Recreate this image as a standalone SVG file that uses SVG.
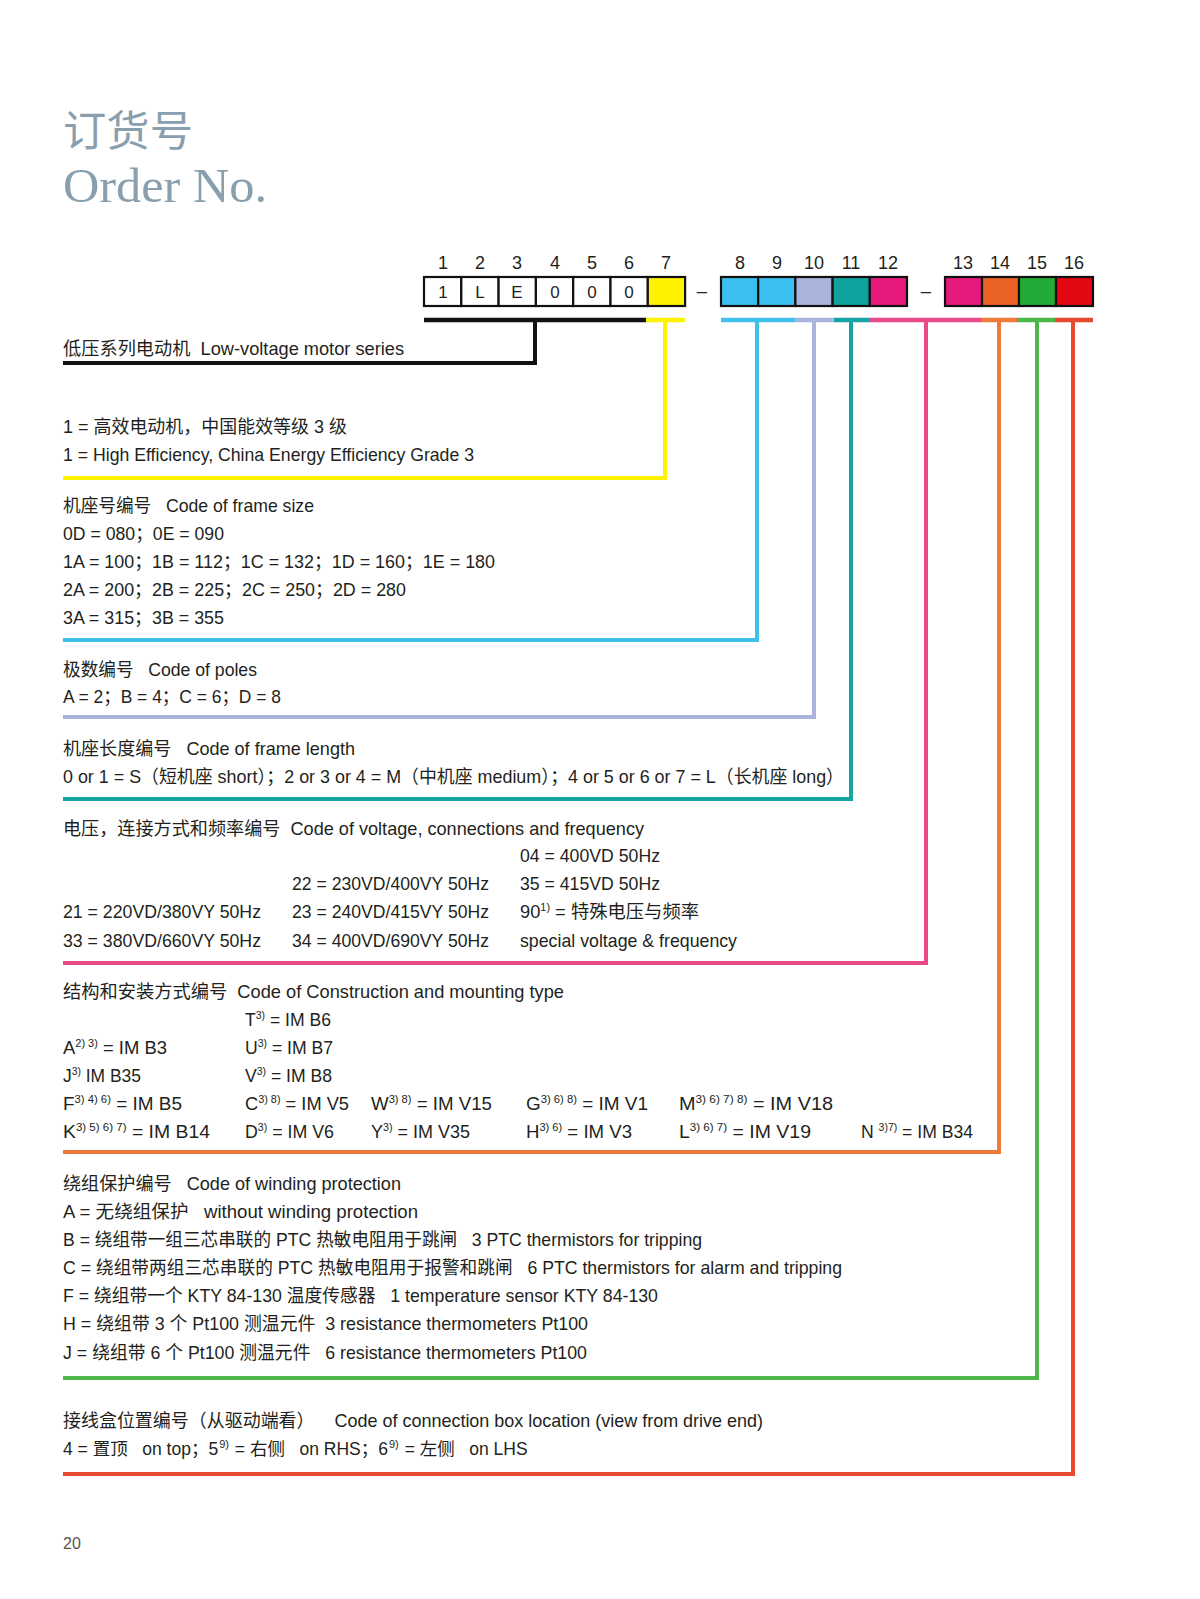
<svg xmlns="http://www.w3.org/2000/svg" width="1200" height="1599" viewBox="0 0 1200 1599">
<style>
text{font-family:"Liberation Sans","Noto Sans CJK SC",sans-serif;fill:#231f20;font-size:18.5px}
.num{font-size:18px;text-anchor:middle}
.box{font-size:17px;text-anchor:middle}
.sup{font-size:11px}
.sm{font-size:17.5px}
.title{font-family:"Noto Sans CJK SC",sans-serif;fill:#8a9fae;font-size:42px}
.title2{font-family:"Liberation Serif",serif;fill:#8a9fae;font-size:49px}
.pg{fill:#555;font-size:16px}
.cell{stroke:#111;stroke-width:2.2}
.ln{fill:none;stroke-width:4;stroke-linejoin:miter;stroke-linecap:butt}
.bar{stroke-width:4.5}
</style>
<rect width="1200" height="1599" fill="#fff"/>
<g id="title">
<text class="title" x="63" y="146" textLength="130" lengthAdjust="spacingAndGlyphs">订货号</text>
<text class="title2" x="63" y="202" textLength="204" lengthAdjust="spacingAndGlyphs">Order No.</text>
</g>
<g id="code-header">
<g id="positions">
<text class="num" x="443" y="269">1</text><text class="num" x="480" y="269">2</text><text class="num" x="517" y="269">3</text><text class="num" x="555" y="269">4</text><text class="num" x="592" y="269">5</text><text class="num" x="629" y="269">6</text><text class="num" x="666" y="269">7</text>
<text class="num" x="740" y="269">8</text><text class="num" x="777" y="269">9</text><text class="num" x="814" y="269">10</text><text class="num" x="851" y="269">11</text><text class="num" x="888" y="269">12</text>
<text class="num" x="963" y="269">13</text><text class="num" x="1000" y="269">14</text><text class="num" x="1037" y="269">15</text><text class="num" x="1074" y="269">16</text>
</g>
<g id="boxes1">
<rect class="cell" x="424" y="277" width="37.3" height="29" fill="#fff"/>
<rect class="cell" x="461.3" y="277" width="37.3" height="29" fill="#fff"/>
<rect class="cell" x="498.6" y="277" width="37.3" height="29" fill="#fff"/>
<rect class="cell" x="535.9" y="277" width="37.3" height="29" fill="#fff"/>
<rect class="cell" x="573.2" y="277" width="37.3" height="29" fill="#fff"/>
<rect class="cell" x="610.5" y="277" width="37.3" height="29" fill="#fff"/>
<rect class="cell" x="647.8" y="277" width="37.3" height="29" fill="#fff200"/>
<text class="box" x="443" y="298">1</text><text class="box" x="480" y="298">L</text><text class="box" x="517" y="298">E</text><text class="box" x="555" y="298">0</text><text class="box" x="592" y="298">0</text><text class="box" x="629" y="298">0</text>
</g>
<text x="702" y="297" style="text-anchor:middle">–</text>
<g id="boxes2">
<rect class="cell" x="721" y="277" width="37.2" height="29" fill="#3bbfef"/>
<rect class="cell" x="758.2" y="277" width="37.2" height="29" fill="#3bbfef"/>
<rect class="cell" x="795.4" y="277" width="37.2" height="29" fill="#aab3dc"/>
<rect class="cell" x="832.6" y="277" width="37.2" height="29" fill="#0ea39f"/>
<rect class="cell" x="869.8" y="277" width="37.2" height="29" fill="#e6197c"/>
</g>
<text x="926" y="297" style="text-anchor:middle">–</text>
<g id="boxes3">
<rect class="cell" x="945" y="277" width="37" height="29" fill="#e6197c"/>
<rect class="cell" x="982" y="277" width="37" height="29" fill="#eb6324"/>
<rect class="cell" x="1019" y="277" width="37" height="29" fill="#22ab38"/>
<rect class="cell" x="1056" y="277" width="37" height="29" fill="#e30613"/>
</g>
</g>
<g id="connectors">
<line class="ln bar" x1="424" y1="320" x2="646" y2="320" stroke="#111"/>
<polyline class="ln" points="535,320 535,363 63,363" stroke="#111"/>
<line class="ln bar" x1="646" y1="320" x2="685" y2="320" stroke="#fff200"/>
<polyline class="ln" points="665,320 665,478 63,478" stroke="#fff200"/>
<line class="ln bar" x1="721" y1="320" x2="795" y2="320" stroke="#40bfea"/>
<polyline class="ln" points="757,320 757,640 63,640" stroke="#40bfea"/>
<line class="ln bar" x1="795" y1="320" x2="834" y2="320" stroke="#aab4dc"/>
<polyline class="ln" points="814,320 814,717 63,717" stroke="#aab4dc"/>
<line class="ln bar" x1="834" y1="320" x2="870" y2="320" stroke="#15a3a3"/>
<polyline class="ln" points="851,320 851,799 63,799" stroke="#15a3a3"/>
<line class="ln bar" x1="870" y1="320" x2="981" y2="320" stroke="#e74a86"/>
<polyline class="ln" points="926,320 926,963 63,963" stroke="#e74a86"/>
<line class="ln bar" x1="981" y1="320" x2="1017" y2="320" stroke="#ee7a3a"/>
<polyline class="ln" points="999,320 999,1152 63,1152" stroke="#ee7a3a"/>
<line class="ln bar" x1="1017" y1="320" x2="1055" y2="320" stroke="#4db849"/>
<polyline class="ln" points="1037,320 1037,1378 63,1378" stroke="#4db849"/>
<line class="ln bar" x1="1055" y1="320" x2="1093" y2="320" stroke="#e84a30"/>
<polyline class="ln" points="1073,320 1073,1474 63,1474" stroke="#e84a30"/>
</g>
<g id="series">
<text x="63" y="355" textLength="341" lengthAdjust="spacingAndGlyphs">低压系列电动机&#160; Low-voltage motor series</text>
</g>
<g id="efficiency">
<text x="63" y="433" textLength="284" lengthAdjust="spacingAndGlyphs">1 = 高效电动机，中国能效等级 3 级</text>
<text x="63" y="461" textLength="411" lengthAdjust="spacingAndGlyphs">1 = High Efficiency, China Energy Efficiency Grade 3</text>
</g>
<g id="frame-size">
<text x="63" y="512" textLength="251" lengthAdjust="spacingAndGlyphs">机座号编号&#160;&#160; Code of frame size</text>
<text x="63" y="540" textLength="161" lengthAdjust="spacingAndGlyphs">0D = 080；0E = 090</text>
<text x="63" y="568" textLength="432" lengthAdjust="spacingAndGlyphs">1A = 100；1B = 112；1C = 132；1D = 160；1E = 180</text>
<text x="63" y="596" textLength="343" lengthAdjust="spacingAndGlyphs">2A = 200；2B = 225；2C = 250；2D = 280</text>
<text x="63" y="624" textLength="161" lengthAdjust="spacingAndGlyphs">3A = 315；3B = 355</text>
</g>
<g id="poles">
<text x="63" y="676" textLength="194" lengthAdjust="spacingAndGlyphs">极数编号&#160;&#160; Code of poles</text>
<text x="63" y="703" textLength="218" lengthAdjust="spacingAndGlyphs">A = 2；B = 4；C = 6；D = 8</text>
</g>
<g id="frame-length">
<text x="63" y="755" textLength="292" lengthAdjust="spacingAndGlyphs">机座长度编号&#160;&#160; Code of frame length</text>
<text x="63" y="783" textLength="781" lengthAdjust="spacingAndGlyphs">0 or 1 = S（短机座 short）；2 or 3 or 4 = M（中机座 medium）；4 or 5 or 6 or 7 = L（长机座 long）</text>
</g>
<g id="voltage">
<text x="63" y="835" textLength="581" lengthAdjust="spacingAndGlyphs">电压，连接方式和频率编号&#160; Code of voltage, connections and frequency</text>
<text x="520" y="862" textLength="140" lengthAdjust="spacingAndGlyphs">04 = 400VD 50Hz</text>
<text x="292" y="890" textLength="197" lengthAdjust="spacingAndGlyphs">22 = 230VD/400VY 50Hz</text>
<text x="520" y="890" textLength="140" lengthAdjust="spacingAndGlyphs">35 = 415VD 50Hz</text>
<text x="63" y="918" textLength="198" lengthAdjust="spacingAndGlyphs">21 = 220VD/380VY 50Hz</text>
<text x="292" y="918" textLength="197" lengthAdjust="spacingAndGlyphs">23 = 240VD/415VY 50Hz</text>
<text x="520" y="918" textLength="179" lengthAdjust="spacingAndGlyphs">90<tspan class="sup" dy="-7">1)</tspan><tspan dy="7"> = 特殊电压与频率</tspan></text>
<text x="63" y="947" textLength="198" lengthAdjust="spacingAndGlyphs">33 = 380VD/660VY 50Hz</text>
<text x="292" y="947" textLength="197" lengthAdjust="spacingAndGlyphs">34 = 400VD/690VY 50Hz</text>
<text x="520" y="947" textLength="217" lengthAdjust="spacingAndGlyphs">special voltage &amp; frequency</text>
</g>
<g id="mounting">
<text x="63" y="998" textLength="501" lengthAdjust="spacingAndGlyphs">结构和安装方式编号&#160; Code of Construction and mounting type</text>
<text x="245" y="1026" textLength="86" lengthAdjust="spacingAndGlyphs">T<tspan class="sup" dy="-7">3)</tspan><tspan dy="7"> = IM B6</tspan></text>
<text x="63" y="1054" textLength="104" lengthAdjust="spacingAndGlyphs">A<tspan class="sup" dy="-7">2) 3)</tspan><tspan dy="7"> = IM B3</tspan></text>
<text x="245" y="1054" textLength="88" lengthAdjust="spacingAndGlyphs">U<tspan class="sup" dy="-7">3)</tspan><tspan dy="7"> = IM B7</tspan></text>
<text x="63" y="1082" textLength="78" lengthAdjust="spacingAndGlyphs">J<tspan class="sup" dy="-7">3)</tspan><tspan dy="7"> IM B35</tspan></text>
<text x="245" y="1082" textLength="87" lengthAdjust="spacingAndGlyphs">V<tspan class="sup" dy="-7">3)</tspan><tspan dy="7"> = IM B8</tspan></text>
<text x="63" y="1110" textLength="119" lengthAdjust="spacingAndGlyphs">F<tspan class="sup" dy="-7">3) 4) 6)</tspan><tspan dy="7"> = IM B5</tspan></text>
<text x="245" y="1110" textLength="104" lengthAdjust="spacingAndGlyphs">C<tspan class="sup" dy="-7">3) 8)</tspan><tspan dy="7"> = IM V5</tspan></text>
<text x="371" y="1110" textLength="121" lengthAdjust="spacingAndGlyphs">W<tspan class="sup" dy="-7">3) 8)</tspan><tspan dy="7"> = IM V15</tspan></text>
<text x="526" y="1110" textLength="122" lengthAdjust="spacingAndGlyphs">G<tspan class="sup" dy="-7">3) 6) 8)</tspan><tspan dy="7"> = IM V1</tspan></text>
<text x="679" y="1110" textLength="154" lengthAdjust="spacingAndGlyphs">M<tspan class="sup" dy="-7">3) 6) 7) 8)</tspan><tspan dy="7"> = IM V18</tspan></text>
<text x="63" y="1138" textLength="147" lengthAdjust="spacingAndGlyphs">K<tspan class="sup" dy="-7">3) 5) 6) 7)</tspan><tspan dy="7"> = IM B14</tspan></text>
<text x="245" y="1138" textLength="89" lengthAdjust="spacingAndGlyphs">D<tspan class="sup" dy="-7">3)</tspan><tspan dy="7"> = IM V6</tspan></text>
<text x="371" y="1138" textLength="99" lengthAdjust="spacingAndGlyphs">Y<tspan class="sup" dy="-7">3)</tspan><tspan dy="7"> = IM V35</tspan></text>
<text x="526" y="1138" textLength="106" lengthAdjust="spacingAndGlyphs">H<tspan class="sup" dy="-7">3) 6)</tspan><tspan dy="7"> = IM V3</tspan></text>
<text x="679" y="1138" textLength="132" lengthAdjust="spacingAndGlyphs">L<tspan class="sup" dy="-7">3) 6) 7)</tspan><tspan dy="7"> = IM V19</tspan></text>
<text x="861" y="1138" textLength="112" lengthAdjust="spacingAndGlyphs">N <tspan class="sup" dy="-7">3)7)</tspan><tspan dy="7"> = IM B34</tspan></text>
</g>
<g id="winding">
<text x="63" y="1190" textLength="338" lengthAdjust="spacingAndGlyphs">绕组保护编号&#160;&#160; Code of winding protection</text>
<text x="63" y="1218" textLength="355" lengthAdjust="spacingAndGlyphs">A = 无绕组保护&#160;&#160; without winding protection</text>
<text x="63" y="1246" textLength="639" lengthAdjust="spacingAndGlyphs">B = 绕组带一组三芯串联的 PTC 热敏电阻用于跳闸&#160;&#160; 3 PTC thermistors for tripping</text>
<text x="63" y="1274" textLength="779" lengthAdjust="spacingAndGlyphs">C = 绕组带两组三芯串联的 PTC 热敏电阻用于报警和跳闸&#160;&#160; 6 PTC thermistors for alarm and tripping</text>
<text x="63" y="1302" textLength="595" lengthAdjust="spacingAndGlyphs">F = 绕组带一个 KTY 84-130 温度传感器&#160;&#160; 1 temperature sensor KTY 84-130</text>
<text x="63" y="1330" textLength="525" lengthAdjust="spacingAndGlyphs">H = 绕组带 3 个 Pt100 测温元件&#160; 3 resistance thermometers Pt100</text>
<text x="63" y="1359" textLength="524" lengthAdjust="spacingAndGlyphs">J = 绕组带 6 个 Pt100 测温元件&#160;&#160; 6 resistance thermometers Pt100</text>
</g>
<g id="connection-box">
<text x="63" y="1427" textLength="700" lengthAdjust="spacingAndGlyphs">接线盒位置编号（从驱动端看）&#160;&#160;&#160; Code of connection box location (view from drive end)</text>
<text class="sm" x="63" y="1455">4 = 置顶&#160;&#160; on top；5<tspan class="sup" dy="-7" dx="1">9)</tspan><tspan dy="7" dx="1"> = 右侧&#160;&#160; on RHS；6</tspan><tspan class="sup" dy="-7" dx="1">9)</tspan><tspan dy="7" dx="1"> = 左侧&#160;&#160; on LHS</tspan></text>
</g>
<text class="pg" x="63" y="1549">20</text>
</svg>
